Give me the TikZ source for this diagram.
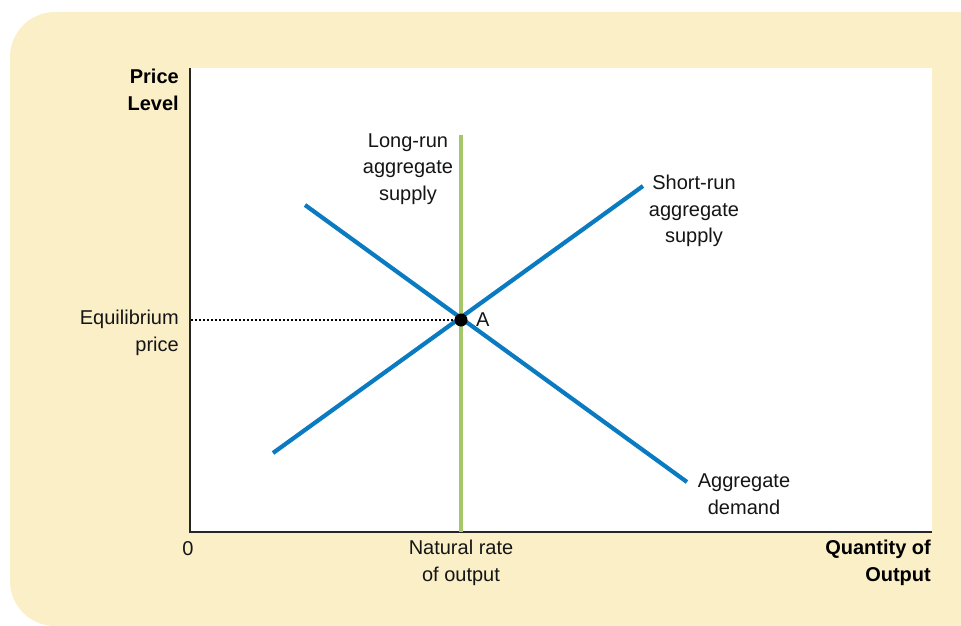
\documentclass[tikz,border=0pt]{standalone}
\usepackage{fontspec}
\setmainfont{Liberation Sans}
\definecolor{cream}{HTML}{FBEFC8}
\definecolor{curveblue}{HTML}{0A7BC1}
\definecolor{lrasgreen}{HTML}{A5C76A}
\definecolor{txt}{HTML}{151515}
\begin{document}
\begin{tikzpicture}[x=1pt,y=-1pt,
  lbl/.style={font=\fontsize{20}{26.5}\selectfont, text=txt, inner sep=0pt},
  boldlbl/.style={lbl, font=\fontsize{20}{26.5}\selectfont\bfseries, text=black},
  curve/.style={draw=curveblue, line width=4.2pt},
  axis/.style={draw=black!85, line width=1.2pt}]
\useasboundingbox (0,0) rectangle (961,626);
\fill[cream, rounded corners=45pt] (10,12) rectangle (1000,626);
\fill[white] (190,68) rectangle (932,532);
% coordinates
\coordinate (O) at (190,532);
\coordinate (ytop) at (190,68);
\coordinate (xend) at (932,532);
\coordinate (lrastop) at (461,135);
\coordinate (lrasbot) at (461,532);
\coordinate (adstart) at (305,205);
\coordinate (adend) at (687,482);
\coordinate (asstart) at (273,453);
\coordinate (asend) at (643,186);
\coordinate (eqleft) at (191,320);
% axes
\draw[axis] (ytop) -- (O) -- (xend);
% curves
\draw[lrasgreen, line width=4pt] (lrastop) -- (lrasbot);
\draw[curve] (adstart) -- (adend);
\draw[curve] (asstart) -- (asend);
\node[circle, fill=black, minimum size=13pt, inner sep=0pt] (A) at (461,320) {};
\draw[black, line width=1.8pt, dash pattern=on 1.8pt off 2.2pt] (eqleft) -- (A);
% labels
\node[lbl, anchor=west] (Alabel) at (476,320) {A};
\node[boldlbl, align=right, anchor=east] (ylab) at (179,90) {Price\\Level};
\node[boldlbl, align=right, anchor=east] (xlab) at (931,563) {Quantity of\\Output};
\node[lbl, align=right, anchor=east] (eqlab) at (179,333) {Equilibrium\\price};
\node[lbl] (zero) at (188,549) {0};
\node[lbl, align=center] (natlab) at (461,563) {Natural rate\\of output};
\node[lbl, align=center] (lraslab) at (408,169) {Long-run\\aggregate\\supply};
\node[lbl, align=center] (sraslab) at (694,211) {Short-run\\aggregate\\supply};
\node[lbl, align=center] (adlab) at (744,494) {Aggregate\\demand};
\end{tikzpicture}
\end{document}
